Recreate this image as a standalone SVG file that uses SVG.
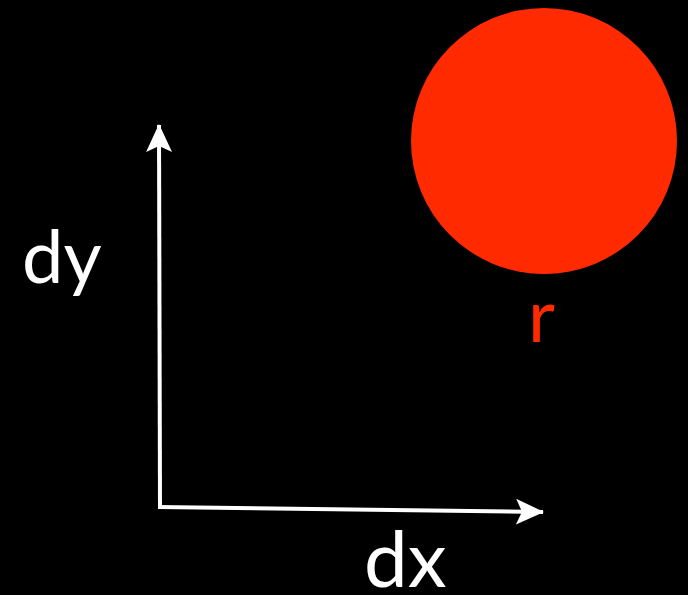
<svg xmlns="http://www.w3.org/2000/svg" width="688" height="595" viewBox="0 0 688 595">
<style>
.lbl{font-family:"Lato","Open Sans","DejaVu Sans",sans-serif;font-size:74px}
.axis{stroke:#fff;stroke-width:4;fill:none}
</style>
<defs>
<marker id="ah" markerUnits="userSpaceOnUse" markerWidth="30" markerHeight="30" refX="27" refY="15" orient="auto" viewBox="0 0 30 30">
<path d="M0,2 L28,15 L0,28 L6,15 Z" fill="#fff"/>
</marker>
</defs>
<rect width="688" height="595" fill="#000"/>
<g id="circle"><circle cx="544" cy="141" r="133" fill="#ff2a00"/></g>
<g id="connectors">
<line class="axis" x1="160" y1="508" x2="159" y2="125" marker-end="url(#ah)"/>
<line class="axis" x1="158" y1="507" x2="543" y2="512" marker-end="url(#ah)"/>
</g>
<g id="label-dy"><text class="lbl" x="22" y="283" fill="#fff">dy</text></g>
<g id="label-dx"><text class="lbl" x="364" y="587" fill="#fff" style="font-size:78px">dx</text></g>
<g id="label-r"><text class="lbl" x="528" y="342" fill="#ff2a00">r</text></g>
</svg>
